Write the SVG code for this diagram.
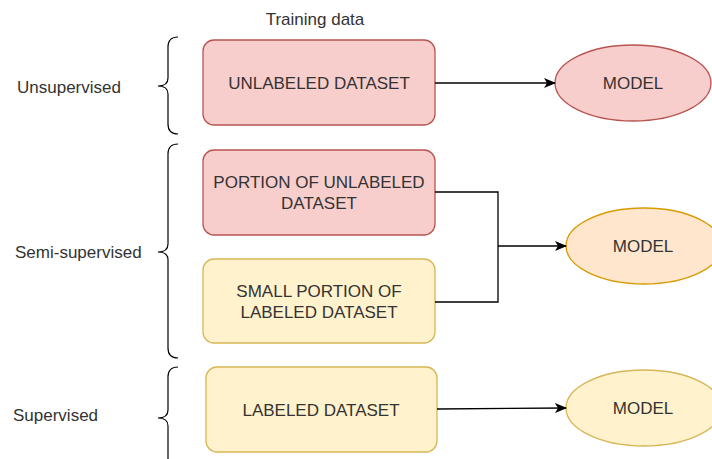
<svg xmlns="http://www.w3.org/2000/svg" width="712" height="459" viewBox="0 0 712 459">
  <defs>
    <marker id="arrow" viewBox="0 0 12 10" refX="11" refY="5" markerWidth="12" markerHeight="10" markerUnits="userSpaceOnUse" orient="auto">
      <path d="M0,0 L12,5 L0,10 L3,5 Z" fill="#000"/>
    </marker>
  </defs>
  <style>
    text { font-family: "Liberation Sans", Arial, sans-serif; font-size: 17px; fill: #333; }
    .c { text-anchor: middle; dominant-baseline: central; }
    .red { fill: #f8cecc; stroke: #b85450; stroke-width: 1.3; }
    .yel { fill: #fff2cc; stroke: #d6b656; stroke-width: 1.3; }
    .org { fill: #ffe6cc; stroke: #d79b00; stroke-width: 1.3; }
    .brace { fill: none; stroke: #000; stroke-width: 1.2; }
    .edge { fill: none; stroke: #000; stroke-width: 1.3; }
  </style>

  <rect width="712" height="459" fill="#fff"/>

  <g id="title">
    <text x="315" y="19" class="c">Training data</text>
  </g>

  <!-- category labels with curly braces -->
  <g id="unsupervised">
    <text x="17" y="87" dominant-baseline="central">Unsupervised</text>
    <path class="brace" d="M178,37 Q168,37 168,47 L168,78 Q168,86 158,86 Q168,86 168,94 L168,124 Q168,134 178,134"/>
  </g>
  <g id="semi-supervised">
    <text x="15" y="252" dominant-baseline="central">Semi-supervised</text>
    <path class="brace" d="M178,144 Q168,144 168,154 L168,244 Q168,252 158,252 Q168,252 168,260 L168,348 Q168,358 178,358"/>
  </g>
  <g id="supervised">
    <text x="13" y="415" dominant-baseline="central">Supervised</text>
    <path class="brace" d="M178,367 Q168,367 168,377 L168,410 Q168,418 158,418 Q168,418 168,426 L168,460"/>
  </g>

  <!-- training data boxes -->
  <g id="unlabeled-dataset">
    <rect class="red" x="203" y="40" width="232" height="85" rx="11"/>
    <text x="319" y="83" class="c">UNLABELED DATASET</text>
  </g>
  <g id="portion-unlabeled">
    <rect class="red" x="203" y="150" width="232" height="85" rx="11"/>
    <text x="319" y="182" class="c">PORTION OF UNLABELED</text>
    <text x="319" y="203" class="c">DATASET</text>
  </g>
  <g id="small-portion-labeled">
    <rect class="yel" x="203" y="259" width="232" height="84" rx="11"/>
    <text x="319" y="291" class="c">SMALL PORTION OF</text>
    <text x="319" y="312" class="c">LABELED DATASET</text>
  </g>
  <g id="labeled-dataset">
    <rect class="yel" x="206" y="367" width="231" height="85" rx="11"/>
    <text x="321" y="410" class="c">LABELED DATASET</text>
  </g>

  <!-- models -->
  <g id="model-unsupervised">
    <ellipse class="red" cx="633" cy="83" rx="78" ry="38"/>
    <text x="633" y="83" class="c">MODEL</text>
  </g>
  <g id="model-semi">
    <ellipse class="org" cx="644" cy="246" rx="78" ry="38"/>
    <text x="643" y="246" class="c">MODEL</text>
  </g>
  <g id="model-supervised">
    <ellipse class="yel" cx="644" cy="408" rx="78" ry="38"/>
    <text x="643" y="408" class="c">MODEL</text>
  </g>

  <!-- connectors -->
  <g id="connectors">
    <path class="edge" d="M435,83 L555,83" marker-end="url(#arrow)"/>
    <path class="edge" d="M435,192 L498,192 L498,302 L435,302"/>
    <path class="edge" d="M498,246 L566,246" marker-end="url(#arrow)"/>
    <path class="edge" d="M437,409 L566,408" marker-end="url(#arrow)"/>
  </g>
</svg>
